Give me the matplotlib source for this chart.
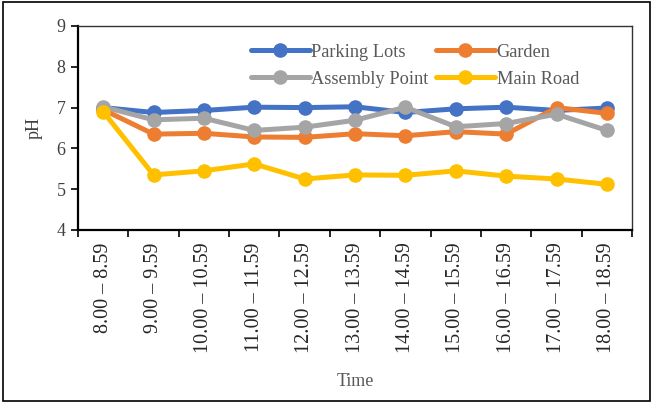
import matplotlib
matplotlib.use("Agg")
import matplotlib.pyplot as plt
from matplotlib.patches import Rectangle
import numpy as np

times = ["8.00 – 8.59", "9.00 – 9.59", "10.00 – 10.59", "11.00 – 11.59",
         "12.00 – 12.59", "13.00 – 13.59", "14.00 – 14.59", "15.00 – 15.59",
         "16.00 – 16.59", "17.00 – 17.59", "18.00 – 18.59"]
parking_lots = [7.00, 6.88, 6.93, 7.01, 7.00, 7.02, 6.88, 6.97, 7.01, 6.93, 6.99]
garden = [6.95, 6.35, 6.37, 6.28, 6.27, 6.36, 6.31, 6.41, 6.35, 7.00, 6.86]
assembly_point = [7.02, 6.70, 6.74, 6.44, 6.52, 6.69, 7.01, 6.53, 6.61, 6.84, 6.44]
main_road = [6.90, 5.35, 5.45, 5.62, 5.25, 5.35, 5.34, 5.45, 5.32, 5.25, 5.12]

series = [("Parking Lots", parking_lots, "#4472C4"),
          ("Garden", garden, "#ED7D31"),
          ("Assembly Point", assembly_point, "#A5A5A5"),
          ("Main Road", main_road, "#FFC000")]

plt.rcParams["font.family"] = ["Liberation Serif", "DejaVu Serif"]

fig = plt.figure(figsize=(6.53, 4.03), dpi=100)
ax = fig.add_axes([0.1194, 0.4293, 0.8486, 0.5062])

x = np.arange(len(times))
handles = {}
for name, vals, col in series:
    (ln,) = ax.plot(x, vals, color=col, lw=3.6, marker="o", markersize=10.5,
                    markeredgewidth=0, label=name, solid_capstyle="round")
    handles[name] = ln

ax.set_xlim(-0.5, len(times) - 0.5)
ax.set_ylim(4, 9)
ax.set_yticks(range(4, 10))
ax.tick_params(axis="y", direction="out", length=5, width=1.2,
               labelsize=13, colors="black", pad=4)
ax.tick_params(axis="y", labelcolor="#404040")

# category boundaries carry the tick marks, centers carry the labels
ax.set_xticks(np.arange(-0.5, len(times), 1.0))
ax.set_xticklabels([])
ax.set_xticks(x, minor=True)
ax.set_xticklabels(times, minor=True, rotation=90, fontsize=14.5, color="#262626")
ax.tick_params(axis="x", which="major", direction="out", length=5, width=1.2)
ax.tick_params(axis="x", which="minor", length=0, pad=9)

for side in ["left", "bottom"]:
    ax.spines[side].set_linewidth(1.6)
for side in ["top", "right"]:
    ax.spines[side].set_linewidth(1.0)
    ax.spines[side].set_color("#333333")

ax.set_ylabel("pH", fontsize=13, color="#404040", labelpad=10)
ax.set_xlabel("Time", fontsize=13, color="#595959", labelpad=14)

order = ["Parking Lots", "Assembly Point", "Garden", "Main Road"]
leg = ax.legend([handles[n] for n in order], order, ncol=2, frameon=False,
                loc="upper right", bbox_to_anchor=(0.934, 0.995), fontsize=13.2,
                handlelength=3.2, handletextpad=0.1, columnspacing=0.4,
                labelspacing=0.55)
for t in leg.get_texts():
    t.set_color("#595959")

fig.patches.append(Rectangle((0.004, 0.004), 0.991, 0.99, transform=fig.transFigure,
                             fill=False, edgecolor="black", lw=1.2))

fig.savefig("out.png", dpi=100)
